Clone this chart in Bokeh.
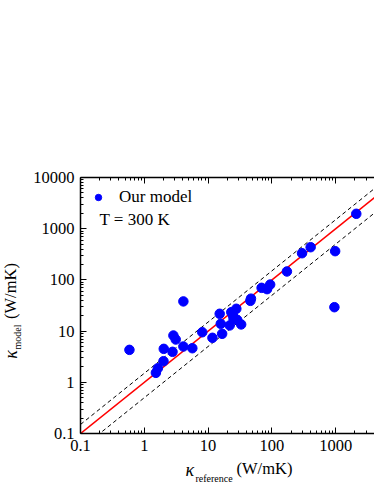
import math
from bokeh.plotting import figure
from bokeh.layouts import column, row
from bokeh.models import (Range1d, LogAxis, FixedTicker, Label, Legend, LegendItem,
                          ColumnDataSource)
from bokeh.core.properties import value
from bokeh.embed import file_html
from bokeh.resources import INLINE

# ---- data ----
kappa_reference = [0.585, 1.52, 1.63, 2.0, 2.02, 2.77, 2.86, 3.11, 4.1, 4.1,
                   5.66, 8.1, 11.7, 15.2, 15.8, 16.6, 21.8, 23.1, 24.5, 25.1,
                   27.7, 28.6, 33.0, 46.0, 47.0, 69.0, 84.0, 94.0, 172.0, 297.0,
                   405.0, 981.0, 955.0, 2104.0]
kappa_model = [4.3, 1.53, 1.88, 2.58, 4.5, 3.94, 8.2, 6.85, 5.0, 38.0,
               4.63, 9.5, 7.4, 21.8, 13.9, 8.85, 12.9, 23.4, 20.2, 17.3,
               27.3, 16.6, 13.5, 39.0, 43.0, 70.0, 66.0, 81.0, 146.0, 332.0,
               435.0, 364.0, 29.3, 1955.0]
major_ticks = [0.1, 1, 10, 100, 1000, 10000]
tick_labels = ["0.1", "1", "10", "100", "1000", "10000"]
guide_x = [0.1, 10000.0]
upper_factor = 1.5
lower_factor = 0.5

FONT = "Liberation Serif"

minor_ticks = [m * t for t in major_ticks[:-1] for m in range(2, 10)]
overrides = {t: s for t, s in zip(major_ticks, tick_labels)}

W_YLAB = 30
H_MAIN = 460
W_TOTAL = 374
H_TOTAL = 484
BORDER_TOP = 177
BORDER_BOTTOM = 27
FRAME_BOTTOM = H_MAIN - BORDER_BOTTOM   # page y of the frame bottom

p = figure(width=W_TOTAL - W_YLAB, height=H_MAIN, x_axis_type="log", y_axis_type="log",
           x_range=Range1d(0.1, 4060), y_range=Range1d(0.1, 10000),
           output_backend="svg", toolbar_location=None,
           min_border_left=49, min_border_right=0, min_border_top=BORDER_TOP,
           min_border_bottom=BORDER_BOTTOM)
p.outline_line_color = None
p.xgrid.visible = False
p.ygrid.visible = False
p.background_fill_color = "white"
p.border_fill_color = "white"

def style_axis(ax):
    ax.ticker = FixedTicker(ticks=major_ticks, minor_ticks=minor_ticks)
    ax.axis_line_color = "black"
    ax.axis_line_width = 1.5
    ax.major_tick_in = 6
    ax.major_tick_out = 0
    ax.minor_tick_in = 3
    ax.minor_tick_out = 0
    ax.major_tick_line_color = "black"
    ax.minor_tick_line_color = "black"
    ax.major_tick_line_width = 1
    ax.minor_tick_line_width = 1
    ax.major_label_text_font = FONT
    ax.major_label_text_font_size = "16.5px"
    ax.major_label_text_color = "black"
    ax.major_label_standoff = 6
    ax.major_label_overrides = overrides

for ax in p.xaxis:
    style_axis(ax)
for ax in p.yaxis:
    style_axis(ax)

top = LogAxis()
style_axis(top)
top.major_label_text_color = None
p.add_layout(top, "above")

# guide lines
p.line(guide_x, guide_x, line_color="#FF0000", line_width=1.6)
p.line(guide_x, [v * upper_factor for v in guide_x], line_color="black",
       line_width=1, line_dash="4 3")
p.line(guide_x, [v * lower_factor for v in guide_x], line_color="black",
       line_width=1, line_dash="4 3")

src = ColumnDataSource(dict(x=kappa_reference, y=kappa_model))
pts = p.scatter("x", "y", source=src, size=9.5, fill_color="#0000FF",
                line_color="#0000FF")

legend = Legend(items=[LegendItem(label="Our model", renderers=[pts])],
                location="top_left", margin=10, padding=0, glyph_width=16,
                glyph_height=16, label_standoff=13,
                background_fill_alpha=0, border_line_alpha=0,
                label_text_font=FONT, label_text_font_size="17px",
                label_text_color="black")
p.add_layout(legend)

p.add_layout(Label(x=19, y=214, x_units="screen", y_units="screen", text="T = 300 K",
                   text_font=FONT, text_font_size="17px", text_baseline="middle",
                   text_align="left", text_color="black"))

def label_fig(w, h, y_range, top=0, bottom=0):
    f = figure(width=w, height=h, x_range=Range1d(0, w), y_range=y_range,
               output_backend="svg", toolbar_location=None,
               x_axis_location=None, y_axis_location=None,
               min_border=0, min_border_left=0, min_border_right=0,
               min_border_top=top, min_border_bottom=bottom)
    f.outline_line_color = None
    f.xgrid.visible = False
    f.ygrid.visible = False
    f.background_fill_color = "white"
    f.border_fill_color = "white"
    return f

def put(f, x, y, text, size, angle=0.0, style="normal", align="left"):
    f.text(x=[x], y=[y], text=[text], angle=angle, text_font=value(FONT),
           text_font_size=value(size), text_font_style=style,
           text_baseline="middle", text_align=align, text_color="black")

# y axis label (rotated) — left strip; its frame matches the main frame,
# and its y range is expressed in page pixels (top -> bottom)
ylab = label_fig(W_YLAB, H_MAIN, Range1d(FRAME_BOTTOM, BORDER_TOP),
                 top=BORDER_TOP, bottom=BORDER_BOTTOM)
put(ylab, 10, 354, "\u03ba", "18px", angle=math.pi / 2, style="italic",
    align="center")
put(ylab, 17, 336.5, "model", "10px", angle=math.pi / 2, align="center")
put(ylab, 10, 290.5, "(W/mK)", "16.5px", angle=math.pi / 2, align="center")

# x axis label — bottom strip (y range in strip pixels, top -> bottom)
H_XLAB = H_TOTAL - H_MAIN
xlab = label_fig(W_TOTAL, H_XLAB, Range1d(H_XLAB, 0))
put(xlab, 185, 9, "\u03ba", "18px", style="italic")
put(xlab, 195, 18, "reference", "10px")
put(xlab, 236, 8, "(W/mK)", "16.5px")

layout = column(row(ylab, p, spacing=0), xlab, spacing=0)

open("out.html", "w").write(file_html(layout, INLINE))
